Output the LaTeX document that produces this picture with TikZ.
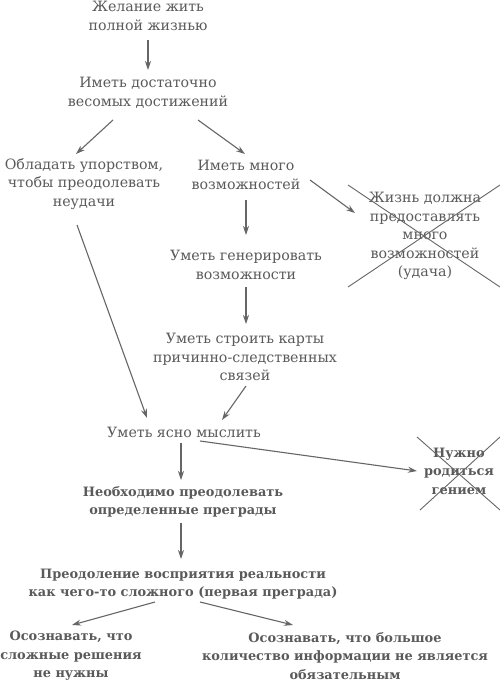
\documentclass[tikz,border=0pt]{standalone}
\usepackage{fontspec}
\setmainfont{DejaVu Serif}
\usetikzlibrary{arrows.meta,calc}
\definecolor{ink}{HTML}{5A5A5A}
\definecolor{lin}{HTML}{666666}
\tikzset{
  txt/.style={text=ink,align=center,inner sep=0pt,font=\fontsize{14.2}{18.5}\selectfont},
  btxt/.style={txt,font=\fontsize{12.9}{18.5}\selectfont\bfseries},
  arr/.style={draw=lin,line width=1.1pt,-{Stealth[length=9pt,width=6pt]}},
  crossline/.style={draw=lin,line width=0.9pt}
}
\begin{document}
\begin{tikzpicture}[x=1pt,y=-1pt]
\useasboundingbox[fill=white] (0,0) rectangle (500,682);
\node[txt] (n1) at (148,16) {Желание жить\\полной жизнью};
\node[txt] (n2) at (148,93) {Иметь достаточно\\весомых достижений};
\node[txt] (n3) at (84,184) {Обладать упорством,\\чтобы преодолевать\\неудачи};
\node[txt] (n4) at (246,175) {Иметь много\\возможностей};
\node[txt] (x1) at (425,236) {Жизнь должна\\предоставлять\\много\\возможностей\\(удача)};
\node[txt] (n5) at (246,265) {Уметь генерировать\\возможности};
\node[txt] (n6) at (245,357) {Уметь строить карты\\причинно-следственных\\связей};
\node[txt] (n7) at (184,432) {Уметь ясно мыслить};
\node[btxt] (n8) at (183,502) {Необходимо преодолевать\\определенные преграды};
\node[btxt] (x2) at (459,471) {Нужно\\родиться\\гением};
\node[btxt] (n9) at (183,584) {Преодоление восприятия реальности\\как чего-то сложного (первая преграда)};
\node[btxt] (n10) at (71,656) {Осознавать, что\\сложные решения\\не нужны};
\node[btxt] (n11) at (345,656) {Осознавать, что большое\\количество информации не является\\обязательным};
% crosses
\draw[crossline] ($(x1)+(-77,-51)$) -- ($(x1)+(75,51)$);
\draw[crossline] ($(x1)+(-77,51)$) -- ($(x1)+(75,-51)$);
\draw[crossline] ($(x2)+(-42,-34)$) -- ($(x2)+(41,39)$);
\draw[crossline] ($(x2)+(-39,39)$) -- ($(x2)+(41,-34)$);
% arrows
\draw[arr] ($(n1)+(0,24)$) -- ($(n2)+(0,-23)$);
\draw[arr] ($(n2)+(-35,27)$) -- ($(n3)+(-8,-30)$);
\draw[arr] ($(n2)+(50,27)$) -- ($(n4)+(-1,-21)$);
\draw[arr] ($(n4)+(0,25)$) -- ($(n5)+(0,-30)$);
\draw[arr] ($(n4)+(64,5)$) -- ($(x1)+(-70,-23)$);
\draw[arr] ($(n3)+(-7,41)$) -- ($(n7)+(-37,-14)$);
\draw[arr] ($(n5)+(0,22)$) -- ($(n6)+(1,-33)$);
\draw[arr] ($(n6)+(1,29)$) -- ($(n7)+(38,-12)$);
\draw[arr] ($(n7)+(-3,11)$) -- ($(n8)+(-2,-22)$);
\draw[arr] ($(n7)+(16,9)$) -- ($(x2)+(-42,0)$);
\draw[arr] ($(n8)+(-2,21)$) -- ($(n9)+(-2,-25)$);
\draw[arr] ($(n9)+(-28,18)$) -- ($(n10)+(1,-31)$);
\draw[arr] ($(n9)+(17,18)$) -- ($(n11)+(-52,-31)$);
\end{tikzpicture}
\end{document}
